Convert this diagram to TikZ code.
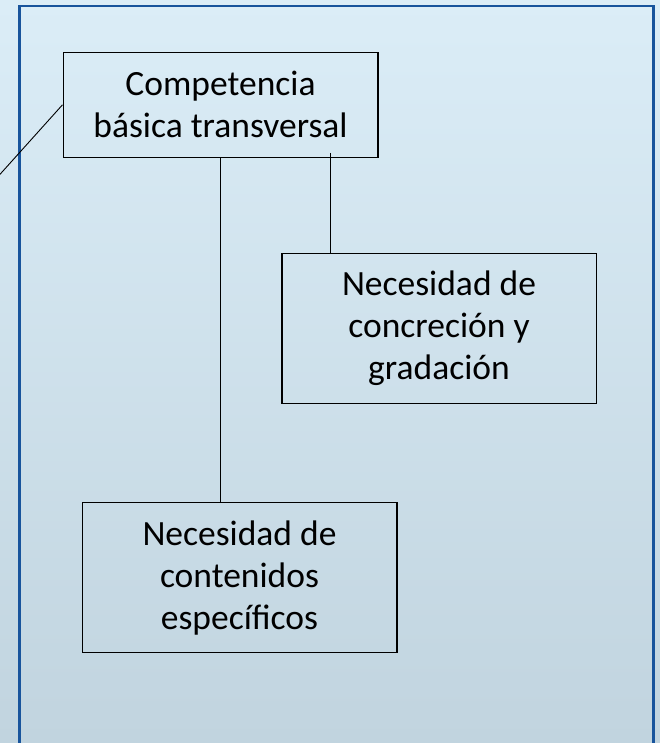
\documentclass[tikz,border=0pt]{standalone}
\usepackage{fontspec}
\setmainfont{Carlito}
\definecolor{bgtop}{RGB}{219,237,247}
\definecolor{bgbot}{RGB}{193,212,223}
\definecolor{framec}{RGB}{24,84,156}
\tikzset{
  box/.style={draw=black, line width=1.5pt, minimum width=314.5pt, inner sep=0pt,
    align=center, font=\fontsize{35.5}{42}\selectfont, text=black},
  conn/.style={draw=black, line width=0.9pt}
}
\begin{document}
\begin{tikzpicture}[x=1pt,y=-1pt]
\useasboundingbox (0,0) rectangle (660,743);
\shade[top color=bgtop, bottom color=bgbot] (0,0) rectangle (660,743);
\begin{scope}
\clip (0,0) rectangle (660,743);
\draw[framec, line width=2.8pt] (19.5,760) -- (19.5,6) -- (653.8,6) -- (653.8,760);
\node[box, minimum height=105pt] (top) at (220.5,104.8) {Competencia\\básica transversal};
\node[box, minimum height=150pt] (conc) at (439,328.3) {Necesidad de\\concreción y\\gradación};
\node[box, minimum height=150pt] (cont) at (239.5,577.7) {Necesidad de\\contenidos\\específicos};
\coordinate (c1) at (330.3,153);
\coordinate (c2) at (220.7,0);
\coordinate (out) at (-6,181);
\draw[conn] (c1) -- (c1 |- conc.north);
\draw[conn] (c2 |- top.south) -- (c2 |- cont.north);
\draw[conn] (top.west) -- (out);
\end{scope}
\end{tikzpicture}
\end{document}
